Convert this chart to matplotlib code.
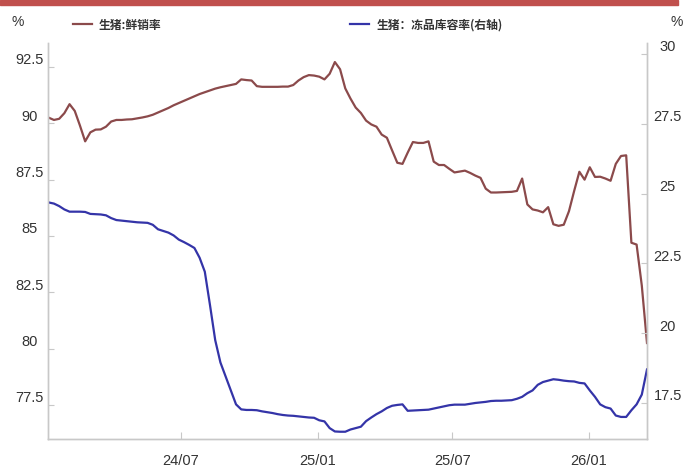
import matplotlib
matplotlib.use("Agg")
import matplotlib.pyplot as plt
from matplotlib.transforms import ScaledTranslation
from matplotlib.patches import Rectangle
import pandas as pd

# ---- data (weekly) ----
dates = pd.date_range("2024-01-05", periods=116, freq="7D")

fresh_sales_rate = [
    90.25, 90.15, 90.2, 90.45, 90.85, 90.55, 89.9, 89.2, 89.6, 89.72,
    89.73, 89.85, 90.08, 90.15, 90.15, 90.17, 90.18, 90.22, 90.26, 90.31,
    90.38, 90.48, 90.58, 90.68, 90.8, 90.9, 91.0, 91.1, 91.2, 91.3,
    91.38, 91.46, 91.54, 91.6, 91.65, 91.7, 91.75, 91.95, 91.92, 91.9,
    91.65, 91.62, 91.62, 91.62, 91.62, 91.63, 91.63, 91.7, 91.9, 92.05,
    92.14, 92.12, 92.07, 91.95, 92.2, 92.72, 92.4, 91.55, 91.1, 90.7,
    90.46, 90.12, 89.95, 89.85, 89.5, 89.36, 88.8, 88.25, 88.2, 88.7,
    89.17, 89.13, 89.13, 89.2, 88.3, 88.15, 88.15, 87.98, 87.82, 87.86,
    87.9, 87.8, 87.68, 87.58, 87.1, 86.93, 86.93, 86.94, 86.95, 86.96,
    87.0, 87.55, 86.4, 86.18, 86.13, 86.05, 86.28, 85.52, 85.45, 85.5,
    86.1, 87.0, 87.85, 87.5, 88.05, 87.62, 87.63, 87.55, 87.45, 88.2,
    88.55, 88.58, 84.7, 84.62, 82.8, 80.25,
]

frozen_storage_rate = [
    24.68, 24.64, 24.55, 24.43, 24.35, 24.35, 24.35, 24.34, 24.27, 24.26,
    24.25, 24.22, 24.12, 24.05, 24.03, 24.01, 23.99, 23.97, 23.96, 23.95,
    23.88, 23.72, 23.66, 23.6, 23.5, 23.35, 23.26, 23.16, 23.05, 22.7,
    22.2, 21.0, 19.75, 18.95, 18.45, 17.95, 17.45, 17.27, 17.25, 17.25,
    17.24, 17.2, 17.17, 17.14, 17.1, 17.07, 17.05, 17.04, 17.02, 17.0,
    16.98, 16.97, 16.88, 16.84, 16.6, 16.48, 16.47, 16.47, 16.55, 16.6,
    16.65, 16.85, 16.98, 17.1, 17.2, 17.32, 17.4, 17.43, 17.45, 17.22,
    17.23, 17.24, 17.25, 17.26, 17.3, 17.34, 17.38, 17.42, 17.44, 17.44,
    17.44, 17.47, 17.5, 17.52, 17.54, 17.57, 17.58, 17.58, 17.59, 17.6,
    17.65, 17.72, 17.85, 17.95, 18.15, 18.25, 18.3, 18.35, 18.33, 18.3,
    18.28, 18.27, 18.22, 18.2, 17.95, 17.72, 17.45, 17.35, 17.3, 17.05,
    17.0, 17.0, 17.24, 17.45, 17.8, 18.7,
]

left_ticks = [77.5, 80, 82.5, 85, 87.5, 90, 92.5]
right_ticks = [17.5, 20, 22.5, 25, 27.5, 30]
x_ticks = ["2024-07-01", "2025-01-01", "2025-07-01", "2026-01-01"]
x_tick_labels = ["24/07", "25/01", "25/07", "26/01"]

series_names = ["生猪:鲜销率", "生猪：冻品库容率(右轴)"]

# ---- styling ----
RED = "#8B4A4B"
BLUE = "#3434A8"
GRID = "#c8c8c8"
TXT = "#333333"
W, H, DPI = 696, 467, 100

plt.rcParams["font.family"] = ["Liberation Sans", "DejaVu Sans"]

fig = plt.figure(figsize=(W / DPI, H / DPI), dpi=DPI)
ax = fig.add_axes([48 / W, 1 - 439 / H, (647 - 48) / W, (439 - 43) / H])
ax2 = ax.twinx()

l1, = ax.plot(dates, fresh_sales_rate, color=RED, lw=1.6, label=series_names[0])
l2, = ax2.plot(dates, frozen_storage_rate, color=BLUE, lw=1.6, label=series_names[1])

ax.set_xlim(pd.Timestamp("2024-01-04"), pd.Timestamp("2026-03-20"))
ax.set_ylim(75.99, 93.565)
ax2.set_ylim(16.21, 30.39)

ax.set_yticks(left_ticks)
ax.set_yticklabels([f"{v:g}" for v in left_ticks])
ax2.set_yticks(right_ticks)
ax2.set_yticklabels([f"{v:g}" for v in right_ticks])
ax.set_xticks([pd.Timestamp(d) for d in x_ticks])
ax.set_xticklabels(x_tick_labels)

for a in (ax, ax2):
    for s in a.spines.values():
        s.set_color(GRID)
        s.set_linewidth(1.0)
    a.spines["top"].set_visible(False)
    a.tick_params(colors=GRID, labelcolor=TXT, labelsize=10.5, direction="in")

ax.tick_params(axis="y", length=4, pad=13.5)
ax2.tick_params(axis="y", length=4, pad=15)
ax.tick_params(axis="x", length=5, pad=11)

up = ScaledTranslation(0, 8 / DPI, fig.dpi_scale_trans)
for lab in ax.get_yticklabels():
    lab.set_horizontalalignment("center")
    lab.set_transform(lab.get_transform() + up)
for lab in ax2.get_yticklabels():
    lab.set_horizontalalignment("center")
    lab.set_transform(lab.get_transform() + up)

# top red band
fig.patches.append(Rectangle((0, 1 - 5 / H), 678 / W, 5 / H, transform=fig.transFigure,
                             color="#C0504D", zorder=0))

# unit labels
fig.text(18 / W, 1 - 22 / H, "%", ha="center", va="center", fontsize=10, color=TXT)
fig.text(677 / W, 1 - 22 / H, "%", ha="center", va="center", fontsize=10, color=TXT)

# legend
fig.legend(handles=[l1, l2], loc="center left", bbox_to_anchor=(73 / W, 1 - 25 / H),
           ncol=2, frameon=False, handlelength=1.6, handletextpad=0.6,
           columnspacing=16.0, borderpad=0, borderaxespad=0,
           prop={"family": ["Noto Sans CJK SC", "DejaVu Sans"], "size": 8.5, "weight": "bold"},
           labelcolor=TXT)

fig.savefig("out.png", dpi=DPI)
